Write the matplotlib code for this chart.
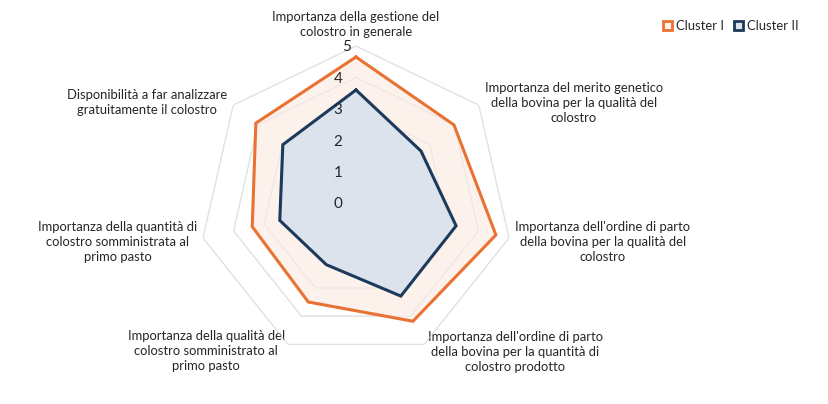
import numpy as np
import matplotlib
matplotlib.use("Agg")
import matplotlib.pyplot as plt
from matplotlib.patches import Patch
from matplotlib.transforms import offset_copy

plt.rcParams['font.family'] = ['Lato', 'DejaVu Sans']

categories = [
    "Importanza della gestione del\ncolostro in generale",
    "Importanza del merito genetico\ndella bovina per la qualità del\ncolostro",
    "Importanza dell'ordine di parto\ndella bovina per la qualità del\ncolostro",
    "Importanza dell'ordine di parto\ndella bovina per la quantità di\ncolostro prodotto",
    "Importanza della qualità del\ncolostro somministrato al\nprimo pasto",
    "Importanza della quantità di\ncolostro somministrata al\nprimo pasto",
    "Disponibilità a far analizzare\ngratuitamente il colostro",
]
cluster1 = [4.65, 3.99, 4.57, 4.18, 3.50, 3.39, 4.08]
cluster2 = [3.60, 2.65, 3.27, 3.29, 2.18, 2.49, 2.98]
ticks = [0, 1, 2, 3, 4, 5]
series_names = ["Cluster I", "Cluster II"]

orange = "#E97132"
orange_fill = "#FDF1EB"
blue = "#1B3A5C"
blue_fill = "#DCE3EC"
grid_c = "#E0E0E0"
text_c = "#262626"

n = len(categories)
theta = np.linspace(0, 2 * np.pi, n, endpoint=False)
theta_c = np.append(theta, theta[0])

fig = plt.figure(figsize=(8.29, 4.04), dpi=100)
cx, cy, R = 356 / 829, (404 - 203) / 404, 157
ax = fig.add_axes([cx - R / 829, cy - R / 404, 2 * R / 829, 2 * R / 404], projection='polar')
ax.set_theta_zero_location('N')
ax.set_theta_direction(-1)
ax.set_ylim(0, 5)
ax.grid(False)
ax.spines['polar'].set_visible(False)
ax.set_xticks([])
ax.set_yticks([])
ax.patch.set_alpha(0)

for t in ticks[1:]:
    ax.plot(theta_c, [t] * (n + 1), color=grid_c, lw=0.8, zorder=1)

def close(v):
    return list(v) + [v[0]]

ax.fill(theta_c, close(cluster1), color=orange_fill, zorder=2, lw=0)
ax.fill(theta_c, close(cluster2), color=blue_fill, zorder=3, lw=0)
for t in ticks[1:]:
    ax.plot(theta_c, [t] * (n + 1), color=grid_c, lw=0.8, alpha=0.6, zorder=3.5)
ax.plot(theta_c, close(cluster1), color=orange, lw=2.2, zorder=4, solid_joinstyle='miter')
ax.plot(theta_c, close(cluster2), color=blue, lw=2.2, zorder=5, solid_joinstyle='miter')

# tick labels placed left of the vertical axis
for t in ticks:
    dx = -7 if t == 5 else -13
    tr = offset_copy(ax.transData, fig=fig, x=dx, y=-1, units='points')
    ax.text(0, t, str(t), ha='center', va='center', fontsize=11, color=text_c,
            transform=tr, zorder=6)

lab_pos = [
    (5.25, 'center', 'bottom', 0),
    (5.24, 'left', 'center', -2),
    (5.21, 'left', 'center', -2.2),
    (5.25, 'left', 'center', 0),
    (5.22, 'right', 'center', 0),
    (5.18, 'right', 'center', -2.2),
    (5.24, 'right', 'center', -1.5),
]
for th, lab, (r, ha, va, dy) in zip(theta, categories, lab_pos):
    tr = offset_copy(ax.transData, fig=fig, x=0, y=dy, units='points')
    ax.text(th, r, lab, ha=ha, va=va, multialignment='center', fontsize=9.4,
            color=text_c, linespacing=1.3, clip_on=False, transform=tr)

handles = [Patch(facecolor=orange_fill, edgecolor=orange, lw=2, label=series_names[0]),
           Patch(facecolor=blue_fill, edgecolor=blue, lw=2, label=series_names[1])]
fig.legend(handles=handles, loc='center right', bbox_to_anchor=(0.978, 0.935), ncol=2,
           frameon=False, fontsize=9.4, handlelength=0.7, handleheight=0.7,
           handletextpad=0.3, columnspacing=0.8, labelcolor=text_c)

fig.savefig("out.png", dpi=100)
